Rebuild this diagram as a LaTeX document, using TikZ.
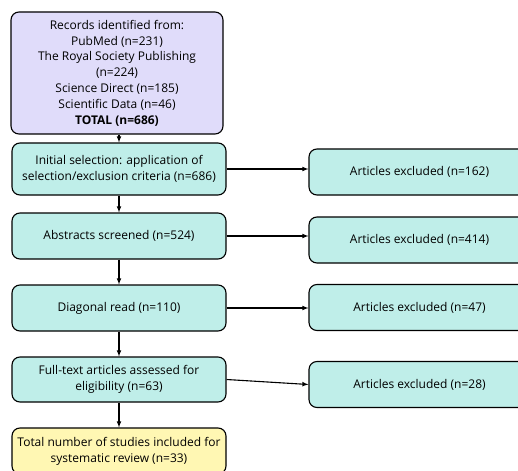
\documentclass[tikz,border=0pt]{standalone}
\usepackage{fontspec}
\setmainfont{Open Sans}
\usepackage{tikz}
\definecolor{lavender}{HTML}{E0DCFA}
\definecolor{aqua}{HTML}{BFEEE9}
\definecolor{paleyellow}{HTML}{FFF7B3}
\tikzset{basic/.style={draw,line width=1.1pt,rounded corners=8pt,
                       align=center,font=\fontsize{12}{15.8}\selectfont,inner sep=2pt}}
\tikzset{source/.style={basic,fill=lavender,minimum width=212pt,minimum height=122pt}}
\tikzset{stage/.style={basic,fill=aqua,minimum width=214pt,minimum height=46pt}}
\tikzset{excluded/.style={basic,fill=aqua,minimum width=221pt,minimum height=46pt}}
\tikzset{result/.style={basic,fill=paleyellow,minimum width=214pt,minimum height=46pt}}
\tikzset{link/.style={->,>=latex,line width=1.1pt}}

\begin{document}
\begin{tikzpicture}[x=1pt,y=-1pt]
    \useasboundingbox (0,0) rectangle (518,470);

    % identification
    \node[source] (records) at (117,73) {Records identified from:\\PubMed (n=231)\\The Royal Society Publishing\\(n=224)\\Science Direct (n=185)\\Scientific Data (n=46)\\\textbf{TOTAL (n=686)}};

    % screening stages
    \node[stage,minimum height=52pt] (initial) at (119,169) {Initial selection: application of\\selection/exclusion criteria (n=686)};
    \node[stage] (abstracts) at (119,236) {Abstracts screened (n=524)};
    \node[stage] (diagonal) at (119,308) {Diagonal read (n=110)};
    \node[stage,minimum height=45pt] (fulltext) at (119,379.5) {Full-text articles assessed for\\eligibility (n=63)};
    \node[result] (included) at (119,451) {Total number of studies included for\\systematic review (n=33)};

    % exclusions
    \foreach \h/\y [count=\hi] in {162/172,414/240,47/307.5,28/384.5}{
        \node[excluded] (excl\hi) at (419.5,\y) {Articles excluded (n=\h)};
    }

    % downward flow
    \draw[link] (initial.north |- records.south) -- (initial.north);
    \draw[link] (initial) -- (abstracts);
    \draw[link] (abstracts) -- (diagonal);
    \draw[link] (diagonal) -- (fulltext);
    \draw[link] (fulltext) -- (included);

    % sideways flow
    \draw[link] (initial.east) -- (initial.east -| excl1.west);
    \draw[link] (abstracts.east) -- (abstracts.east -| excl2.west);
    \draw[link] (diagonal.east) -- (diagonal.east -| excl3.west);
    \draw[link] (fulltext.east) -- (excl4.west);
\end{tikzpicture}
\end{document}
